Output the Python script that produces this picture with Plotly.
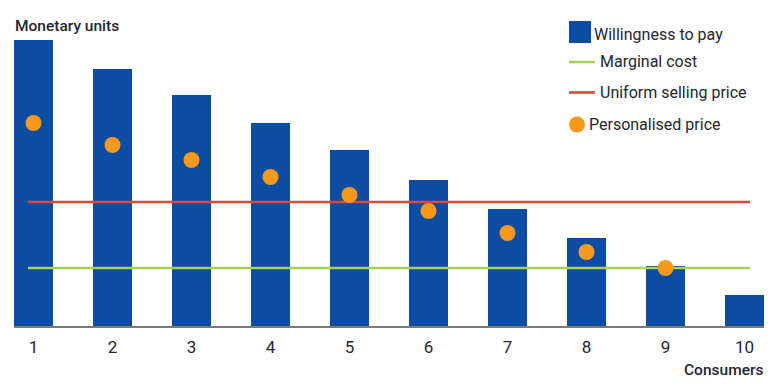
import plotly.graph_objects as go

consumers = [1, 2, 3, 4, 5, 6, 7, 8, 9, 10]
willingness = [28.6, 25.7, 23.1, 20.3, 17.6, 14.6, 11.7, 8.8, 6.0, 3.1]
personalised_x = [1, 2, 3, 4, 5, 6, 7, 8, 9]
personalised = [20.3, 18.1, 16.6, 14.9, 13.1, 11.5, 9.3, 7.4, 5.8]
line_x = [0.93, 10.07]
marginal_cost = 5.8
uniform_price = 12.4

BLUE = "#0c4da2"
ORANGE = "#f7991c"
RED = "#e0463a"
GREEN = "#a8d15a"
TXT = "#262630"
FONT = "Roboto"

fig = go.Figure()
fig.add_trace(go.Bar(x=consumers, y=willingness, width=0.494, marker=dict(color=BLUE, line=dict(width=0)),
                     name="Willingness to pay", showlegend=False))
fig.add_trace(go.Scatter(x=line_x, y=[marginal_cost] * 2, mode="lines", line=dict(color=GREEN, width=2.6),
                         name="Marginal cost", showlegend=False))
fig.add_trace(go.Scatter(x=line_x, y=[uniform_price] * 2, mode="lines", line=dict(color=RED, width=2.6),
                         name="Uniform selling price", showlegend=False))
fig.add_trace(go.Scatter(x=personalised_x, y=personalised, mode="markers",
                         marker=dict(color=ORANGE, size=16, line=dict(width=0)),
                         name="Personalised price", showlegend=False))

# page body has an 8px margin; compensate so that the picture sits at the window's origin
OFF = 8
W, H = 773, 386
L, R, T, B = 14, 9, 40, 60
PW, PH = W - L - R, H - T - B


def px(x):
    return (x - L) / PW


def py(y):
    return (H - B - y) / PH


shapes = [
    dict(type="rect", xref="paper", yref="paper", x0=px(569), x1=px(591), y0=py(43), y1=py(21),
         fillcolor=BLUE, line=dict(width=0)),
    dict(type="line", xref="paper", yref="paper", x0=px(569), x1=px(595), y0=py(62), y1=py(62),
         line=dict(color=GREEN, width=2.6)),
    dict(type="line", xref="paper", yref="paper", x0=px(569), x1=px(595), y0=py(92.5), y1=py(92.5),
         line=dict(color=RED, width=2.6)),
    dict(type="circle", xref="paper", yref="paper", x0=px(569), x1=px(585), y0=py(132.5), y1=py(116.5),
         fillcolor=ORANGE, line=dict(width=0)),
]

legend_items = [("Willingness to pay", 592, 35), ("Marginal cost", 598, 62),
                ("Uniform selling price", 598, 92.5), ("Personalised price", 587, 124)]
annotations = []
for text, x, y in legend_items:
    annotations.append(dict(text=text, xref="paper", yref="paper", x=px(x), y=py(y), xanchor="left",
                            yanchor="middle", showarrow=False, font=dict(family=FONT, size=16, color=TXT)))

annotations.append(dict(text="Monetary units", xref="paper", yref="paper", x=px(13), y=py(26),
                        xanchor="left", yanchor="middle", showarrow=False,
                        font=dict(family=FONT, size=15.5, color=TXT, weight=500)))
annotations.append(dict(text="Consumers", xref="paper", yref="paper", x=px(765), y=py(370),
                        xanchor="right", yanchor="middle", showarrow=False,
                        font=dict(family=FONT, size=15.5, color=TXT, weight=500)))

fig.update_layout(
    width=W - OFF, height=H - OFF, margin=dict(l=L - OFF, r=R, t=T - OFF, b=B),
    paper_bgcolor="white", plot_bgcolor="white",
    showlegend=False, shapes=shapes, annotations=annotations,
    xaxis=dict(range=[0.753, 10.247], tickvals=consumers, ticktext=[str(c) for c in consumers],
               showgrid=False, zeroline=False, showline=True, linecolor="#7a7a7a", linewidth=2,
               ticks="", ticklabelstandoff=5, tickfont=dict(family=FONT, size=17, color=TXT)),
    yaxis=dict(range=[0, 28.6], visible=False, showgrid=False, zeroline=False),
)

fig.write_html("out.html")
